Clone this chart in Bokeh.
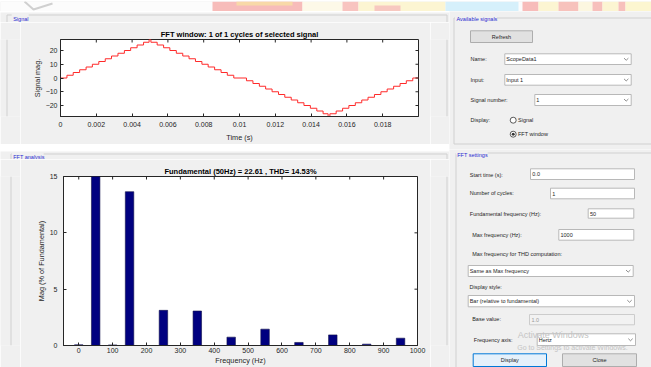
import math
from bokeh.plotting import figure
from bokeh.layouts import row, column
from bokeh.models import Range1d, FixedTicker
from bokeh.core.properties import value
from bokeh.embed import file_html
from bokeh.resources import INLINE

# ---------------- data ----------------
# staircase output over one fundamental cycle: level held from each time on
step_time = [0.0, 0.00036, 0.00071, 0.00107, 0.00143, 0.00178, 0.00214, 0.00250,
             0.00285, 0.00321, 0.00357, 0.00392, 0.00428, 0.00464, 0.00495,
             0.00505, 0.00540, 0.00576, 0.00611, 0.00647, 0.00683, 0.00718,
             0.00754, 0.00790, 0.00825, 0.00861, 0.00897, 0.00932, 0.00968,
             0.01039, 0.01075, 0.01111, 0.01146, 0.01182, 0.01218, 0.01253,
             0.01289, 0.01325, 0.01360, 0.01396, 0.01432, 0.01467, 0.01495,
             0.01505, 0.01540, 0.01576, 0.01611, 0.01647, 0.01683, 0.01718,
             0.01754, 0.01790, 0.01825, 0.01861, 0.01897, 0.01932, 0.01968, 0.02]
step_level = [0, 2, 4, 6, 8, 10, 12, 14, 16, 18, 20, 22, 24, 26, 28,
              26, 24, 22, 20, 18, 16, 14, 12, 10, 8, 6, 4, 2, 0,
              -2, -4, -6, -8, -10, -12, -14, -16, -18, -20, -22, -24, -26, -28,
              -26, -24, -22, -20, -18, -16, -14, -12, -10, -8, -6, -4, -2, 0, 0]

time_ticks = [0, 0.002, 0.004, 0.006, 0.008, 0.01, 0.012, 0.014, 0.016, 0.018]
time_tick_labels = ["0", "0.002", "0.004", "0.006", "0.008", "0.01",
                    "0.012", "0.014", "0.016", "0.018"]
signal_ticks = [-20, -10, 0, 10, 20]

# harmonic spectrum, magnitude in % of the fundamental
harmonic_hz = [0, 50, 100, 150, 250, 350, 450, 550, 650, 750, 850, 950]
harmonic_pct = [0.06, 100, 0.05, 13.65, 3.12, 3.06, 0.74, 1.45, 0.27, 0.94, 0.12, 0.65]
freq_ticks = [0, 100, 200, 300, 400, 500, 600, 700, 800, 900, 1000]
mag_ticks = [0, 5, 10, 15]

fundamental_hz = 50
fundamental_mag = 22.61
thd_pct = 14.53

# ---------------- styling ----------------
BG = "#f0f0f0"
AX = "#262626"
FONT = "Liberation Sans"
UI_SIZE = "5.5px"
TXT = "#1e1e1e"
GROUP_LINE = "#d0d0d0"
GROUP_TITLE = "#2a2ad0"


def ui_figure(w, h, x0, x1, y0, y1):
    """Plain grey canvas whose data units are window pixels (y grows downward)."""
    p = figure(width=w, height=h, x_range=Range1d(x0, x1), y_range=Range1d(y1, y0),
               output_backend="svg", toolbar_location=None,
               x_axis_location=None, y_axis_location=None, min_border=0)
    p.min_border_left = p.min_border_right = 0
    p.min_border_top = p.min_border_bottom = 0
    p.grid.grid_line_color = None
    p.outline_line_color = None
    p.background_fill_color = BG
    p.border_fill_color = BG
    return p


def ui_text(p, x, y, s, size=UI_SIZE, color=TXT, align="left"):
    p.text(x=[x], y=[y], text=[s], text_font=value(FONT), text_font_size=size,
           text_color=color, text_align=align, text_baseline="middle")


def ui_box(p, l, r, t, b, fill="white", line="#b8b8b8"):
    p.quad(left=[l], right=[r], top=[t], bottom=[b], fill_color=fill, line_color=line, line_width=1)


def ui_combo(p, l, r, t, b, s):
    ui_box(p, l, r, t, b)
    cy = (t + b) / 2
    ui_text(p, l + 1.5, cy, s)
    cx = r - 5
    p.line(x=[cx - 2.2, cx, cx + 2.2], y=[cy - 1, cy + 1.1, cy - 1], line_color="#707070", line_width=0.8)


def ui_group(p, l, r, t, b, title, tx, tw, ty):
    p.quad(left=[l], right=[r], top=[t], bottom=[b], fill_color=None, line_color=GROUP_LINE)
    p.quad(left=[tx - 1.5], right=[tx + tw + 1.5], top=[t - 1.5], bottom=[t + 1.5], fill_color=BG, line_color=None)
    ui_text(p, tx, ty, title, color=GROUP_TITLE)


def vline(p, x, y0, y1):
    p.line(x=[x, x], y=[y0, y1], line_color=GROUP_LINE, line_width=1)


def hline(p, y, x0, x1):
    p.line(x=[x0, x1], y=[y, y], line_color=GROUP_LINE, line_width=1)


def style_plot(p, xticks, yticks, xlabel, ylabel, x_std, xl_std, y_std, yl_std, x_over=None):
    p.background_fill_color = "white"
    p.border_fill_color = BG
    p.outline_line_color = AX
    p.grid.grid_line_color = None
    p.title.text_font = FONT
    p.title.text_font_size = "7.5px"
    p.title.text_font_style = "bold"
    p.title.text_color = "#000000"
    p.title.align = "center"
    p.title.standoff = 2
    p.xaxis.ticker = FixedTicker(ticks=xticks)
    p.yaxis.ticker = FixedTicker(ticks=yticks)
    if x_over:
        p.xaxis.major_label_overrides = x_over
    p.xaxis.axis_label = xlabel
    p.yaxis.axis_label = ylabel
    p.xaxis.major_label_standoff = x_std
    p.yaxis.major_label_standoff = y_std
    p.xaxis.axis_label_standoff = xl_std
    p.yaxis.axis_label_standoff = yl_std
    for ax in p.axis:
        ax.major_tick_in = 3
        ax.major_tick_out = 0
        ax.minor_tick_line_color = None
        ax.axis_line_color = AX
        ax.major_tick_line_color = AX
        ax.major_label_text_font = FONT
        ax.major_label_text_font_size = "7px"
        ax.major_label_text_color = AX
        ax.axis_label_text_font = FONT
        ax.axis_label_text_font_size = "7.3px"
        ax.axis_label_text_font_style = "normal"
        ax.axis_label_text_color = AX
    # inward tick marks along the top and right edges of the box
    xr, yr = p.x_range, p.y_range
    p.ray(x=xticks, y=[yr.end] * len(xticks), length=3, length_units="screen",
          angle=-math.pi / 2, line_color=AX, line_width=1)
    p.ray(x=[xr.end] * len(yticks), y=yticks, length=3, length_units="screen",
          angle=math.pi, line_color=AX, line_width=1)


# ---------------- top strip ----------------
banner = ui_figure(651, 11, 0, 651, 0, 11)
banner.quad(left=[0], right=[651], top=[0], bottom=[9.6], fill_color="#fcfcfc", line_color=None)
strip = [(212, 302, 0, 9.6, "#f7bcba"), (236, 292, 0, 4, "#f8d9a8"),
         (302, 342, 0, 9.6, "#fdf9e8"), (342, 358, 0, 9.6, "#f8c4c0"),
         (358, 445, 0, 9.6, "#fcf5d2"), (374, 400, 4, 9.6, "#f7c8c0"),
         (445, 518, 0, 9.6, "#d6f0fb"), (522, 538, 0, 9.6, "#f7bcba"),
         (538, 558, 0, 9.6, "#fcf5d2"), (558, 578, 0, 9.6, "#f7c2bc"),
         (578, 592, 0, 9.6, "#fcf7e0"), (592, 602, 0, 9.6, "#f7c0bc"),
         (602, 618, 0, 9.6, "#fcf5d2"), (618, 625, 0, 9.6, "#f7c0bc"),
         (625, 651, 0, 9.6, "#fcf6d0")]
banner.quad(left=[s[0] for s in strip], right=[s[1] for s in strip], top=[s[2] for s in strip],
            bottom=[s[3] for s in strip], fill_color=[s[4] for s in strip], line_color=None)
banner.line(x=[24, 33, 52], y=[0, 8, 2], line_color="#d0d0d0", line_width=2)
banner.line(x=[0, 651], y=[10.2, 10.2], line_color="#d4d4d4", line_width=1)

# ---------------- "Signal" group: frame pieces around the time plot ----------------
SL, SR, ST, SB = 6.5, 446.5, 13.5, 144.5
t1 = ui_figure(449, 11, 0, 449, 11, 22)
hline(t1, ST, SL, SR)
vline(t1, SL, ST, 22)
vline(t1, SR, ST, 22)
t1.quad(left=[11.2], right=[28.2], top=[12], bottom=[15], fill_color=BG, line_color=None)
ui_text(t1, 12.7, 17.2, "Signal", color=GROUP_TITLE)
l1 = ui_figure(20, 122, 0, 20, 22, 144)
vline(l1, SL, 22, 144)
r1 = ui_figure(19, 122, 430, 449, 22, 144)
vline(r1, SR, 22, 144)
b1 = ui_figure(449, 5, 0, 449, 144, 149)
hline(b1, SB, SL, SR)
vline(b1, SL, 144, SB)
vline(b1, SR, 144, SB)

sig = figure(width=410, height=122, x_range=Range1d(0, 0.02), y_range=Range1d(-28, 28),
             output_backend="svg", toolbar_location=None,
             title="FFT window: 1 of 1 cycles of selected signal",
             min_border_left=40, min_border_right=12, min_border_top=17, min_border_bottom=25)
sig.step(x=step_time, y=step_level, mode="after", line_color="#ff2a2a", line_width=1)
style_plot(sig, time_ticks, signal_ticks, "Time (s)", "Signal mag.", 5, 3, 3, 1,
           dict(zip(time_ticks, time_tick_labels)))

# ---------------- "FFT analysis" group: frame pieces around the bar chart ----------------
FL, FR, FT = 10.5, 446.5, 151.5
t2 = ui_figure(449, 10, 0, 449, 149, 159)
hline(t2, FT, FL, FR)
vline(t2, FL, FT, 159)
vline(t2, FR, FT, 159)
t2.quad(left=[11.2], right=[43.2], top=[150], bottom=[153], fill_color=BG, line_color=None)
ui_text(t2, 12.7, 154.3, "FFT analysis", color=GROUP_TITLE)
l2 = ui_figure(20, 208, 0, 20, 159, 367)
vline(l2, FL, 159, 367)
r2 = ui_figure(19, 208, 430, 449, 159, 367)
vline(r2, FR, 159, 367)

fft = figure(width=410, height=208, x_range=Range1d(-45, 1000), y_range=Range1d(0, 15),
             output_backend="svg", toolbar_location=None,
             title=f"Fundamental ({fundamental_hz}Hz) = {fundamental_mag} , THD= {thd_pct}%",
             min_border_left=43, min_border_right=13, min_border_top=17, min_border_bottom=21)
fft.vbar(x=harmonic_hz, top=harmonic_pct, width=25, bottom=0,
         fill_color="#000080", line_color="#10104a", line_width=0.6)
style_plot(fft, freq_ticks, mag_ticks, "Frequency (Hz)", "Mag (% of Fundamental)", 2, 0, 6, 1)

# ---------------- available signals panel ----------------
avail = ui_figure(202, 138, 449, 651, 11, 149)
ui_group(avail, 453.5, 653, 17.5, 143.5, "Available signals", 456, 39, 18.6)
ui_box(avail, 470, 532, 30.3, 42, fill="#e1e1e1", line="#adadad")
ui_text(avail, 501, 36.2, "Refresh", align="center")
ui_text(avail, 470, 58.5, "Name:")
ui_combo(avail, 504.3, 630.7, 53.3, 64, "ScopeData1")
ui_text(avail, 470, 79.3, "Input:")
ui_combo(avail, 504.3, 630.7, 74, 84.7, "Input 1")
ui_text(avail, 470, 99.3, "Signal number:")
ui_combo(avail, 534.3, 630.7, 94, 105, "1")
ui_text(avail, 470, 119.7, "Display:")
avail.scatter(x=[512.7, 512.7], y=[119.7, 133.7], size=6, marker="circle",
              fill_color="white", line_color="#333333", line_width=0.8)
avail.scatter(x=[512.7], y=[133.7], size=3, marker="circle", fill_color="#333333", line_color=None)
ui_text(avail, 517.5, 119.7, "Signal")
ui_text(avail, 517.5, 133.7, "FFT window")

# ---------------- FFT settings panel ----------------
st = ui_figure(202, 218, 449, 651, 149, 367)
ui_group(st, 455.5, 653, 152.5, 400, "FFT settings", 456.7, 29, 154)
ui_text(st, 469.3, 174, "Start time (s):")
ui_box(st, 530, 634, 168.3, 179)
ui_text(st, 531.8, 173.7, "0.0")
ui_text(st, 469.3, 192.7, "Number of cycles:")
ui_box(st, 550, 634, 187.7, 198.3)
ui_text(st, 551.8, 193, "1")
ui_text(st, 469.3, 213.3, "Fundamental frequency (Hz):")
ui_box(st, 587.7, 633.3, 208.3, 217.7)
ui_text(st, 589.5, 213, "50")
ui_text(st, 471.7, 234, "Max frequency (Hz):")
ui_box(st, 558.3, 633.3, 229, 239.7)
ui_text(st, 560, 234.3, "1000")
ui_text(st, 471.7, 253.7, "Max frequency for THD computation:")
ui_combo(st, 467.7, 632.7, 265, 276, "Same as Max frequency")
ui_text(st, 469, 286.3, "Display style:")
ui_combo(st, 467.7, 634, 295, 306.3, "Bar (relative to fundamental)")
ui_text(st, 471.7, 318.3, "Base value:")
ui_box(st, 529, 634, 314, 324.3, fill="#f2f2f2", line="#cccccc")
ui_text(st, 531, 319.2, "1.0", color="#9a9a9a")
ui_text(st, 473.3, 339, "Frequency axis:")
ui_combo(st, 536.7, 635, 333.3, 345, "Hertz")
ui_box(st, 472.7, 546, 353.3, 366, fill="#e5f1fb", line="#0078d7")
ui_text(st, 509.3, 359.7, "Display", align="center")
ui_box(st, 562, 636, 353.3, 366, fill="#e1e1e1", line="#adadad")
ui_text(st, 599, 359.7, "Close", align="center")
ui_text(st, 517.3, 334.3, "Activate Windows", size="9px", color="#c4c4c4")
ui_text(st, 516.7, 346.7, "Go to Settings to activate Windows.", size="7px", color="#c4c4c4")

left_col = column(t1, row(l1, sig, r1, spacing=0), b1,
                  t2, row(l2, fft, r2, spacing=0), spacing=0)
right_col = column(avail, st, spacing=0)
layout = column(banner, row(left_col, right_col, spacing=0), spacing=0)

open("out.html", "w").write(file_html(layout, INLINE))
